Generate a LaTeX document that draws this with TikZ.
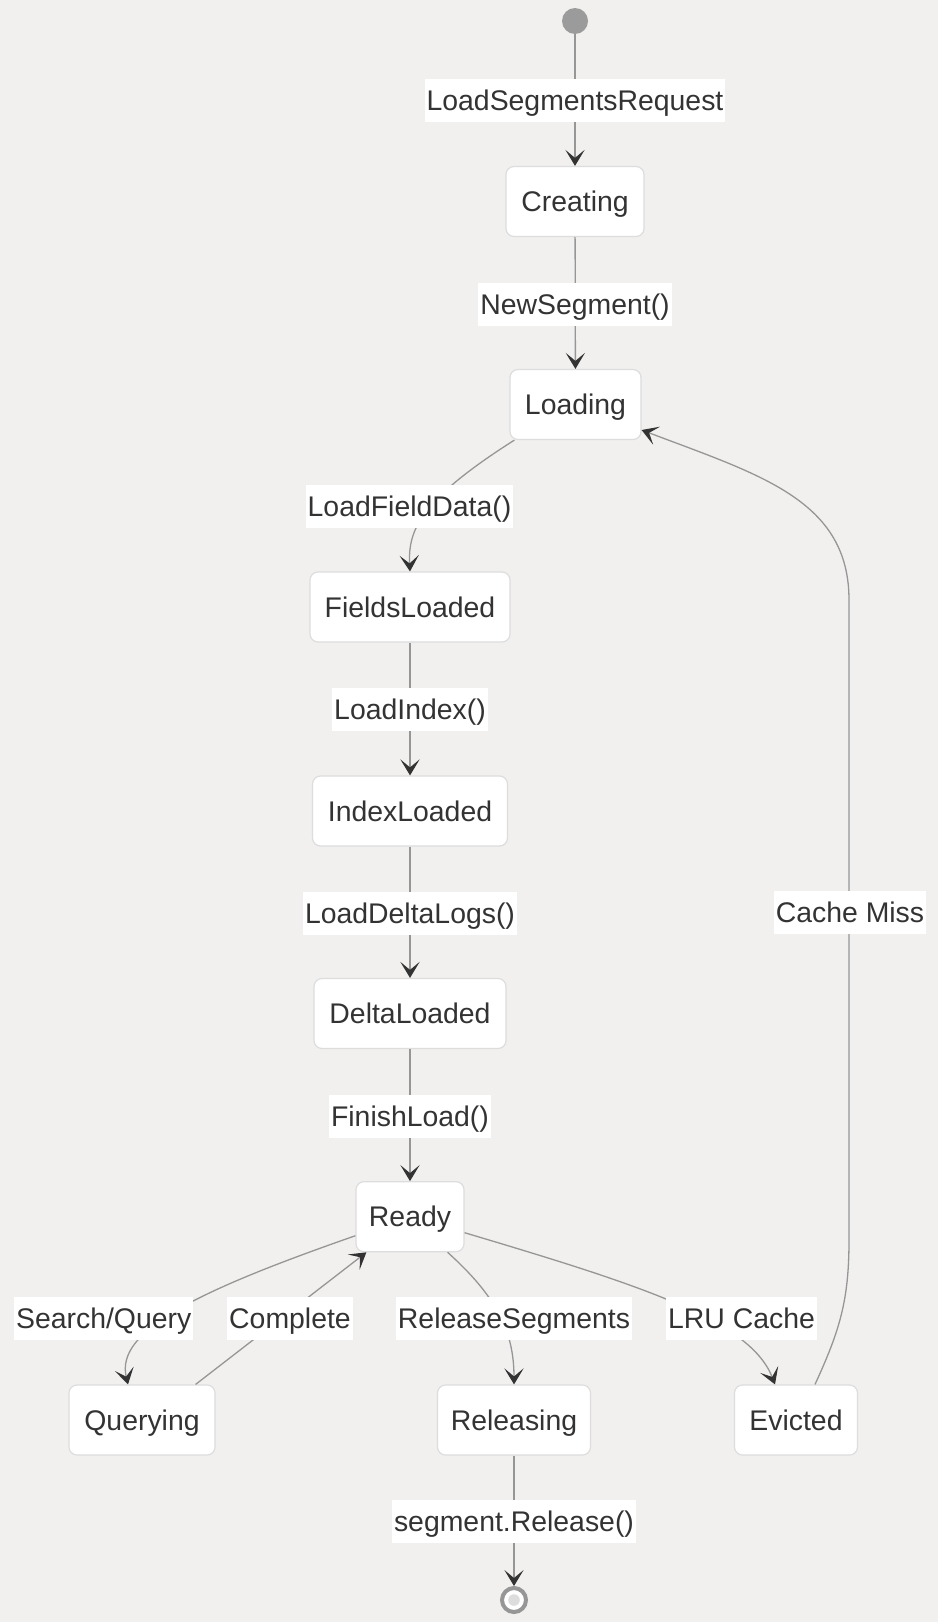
\documentclass[tikz,border=0pt]{standalone}
\usepackage{fontspec}
\setmainfont{Liberation Sans}
\usetikzlibrary{arrows.meta,calc}
\definecolor{bg}{RGB}{241,240,239}
\definecolor{edgec}{RGB}{150,150,150}
\definecolor{nodeb}{RGB}{221,221,221}
\definecolor{txt}{RGB}{51,51,51}
\definecolor{tipc}{RGB}{51,51,51}
\definecolor{startc}{RGB}{155,155,155}
\begin{document}
\begin{tikzpicture}[x=0.5pt,y=-0.5pt,
  state/.style={draw=nodeb, line width=0.6pt, fill=white, rounded corners=4pt, minimum height=35pt, inner xsep=0pt, text height=10.2pt, text depth=0pt, font=\fontsize{14.2pt}{17pt}\selectfont, text=txt},
  lbl/.style={fill=white, inner xsep=1pt, inner ysep=0pt, minimum height=21.5pt, text height=10.2pt, text depth=0pt, font=\fontsize{14.2pt}{17pt}\selectfont, text=txt},
  edge/.style={draw=edgec, line width=0.65pt, -{Stealth[length=8pt,width=9.6pt,inset=4pt,color=tipc]}}
]
\path[fill=bg, use as bounding box] (0,0) rectangle (938,1622);

% states
\node[circle, fill=startc, minimum size=13pt, inner sep=0pt] (start) at (575,21) {};
\node[state, minimum width=69pt] (creating) at (575,201.5) {Creating};
\node[state, minimum width=65.5pt] (loading) at (575.5,404.5) {Loading};
\node[state, minimum width=100pt] (fields) at (410,607) {FieldsLoaded};
\node[state, minimum width=97.5pt] (index) at (410,811) {IndexLoaded};
\node[state, minimum width=96pt] (delta) at (410,1013.5) {DeltaLoaded};
\node[state, minimum width=54pt] (ready) at (410,1216.7) {Ready};
\node[state, minimum width=73pt] (querying) at (142,1420) {Querying};
\node[state, minimum width=76.5pt] (releasing) at (514,1420) {Releasing};
\node[state, minimum width=61.5pt] (evicted) at (796,1420) {Evicted};
\node[circle, draw=edgec, line width=2pt, fill=white, minimum size=12pt, inner sep=0pt] (end) at (514,1600) {};
\node[circle, fill=nodeb, minimum size=5.8pt, inner sep=0pt] (endin) at (end) {};

% transitions
\draw[edge] (start) -- (creating);
\draw[edge] (creating) -- (loading);
\draw[edge] ([xshift=2.5pt]loading.south west) .. controls (420,500) and (408,530) .. (fields.north);
\draw[edge] (fields) -- (index);
\draw[edge] (index) -- (delta);
\draw[edge] (delta) -- (ready);
\draw[edge] ([yshift=-9.5pt]ready.west) .. controls (200,1290) and (115,1330) .. ([xshift=-7pt]querying.north);
\draw[edge] ([xshift=-10pt]querying.north east) -- ([xshift=5.5pt]ready.south west);
\draw[edge] ([xshift=-8.5pt]ready.south east) .. controls (495,1295) and (514,1330) .. (releasing.north);
\draw[edge] ([yshift=-8pt]ready.east) .. controls (640,1285) and (750,1320) .. ([xshift=-10.5pt]evicted.north);
\draw[edge] ([xshift=9.5pt]evicted.north) .. controls (840,1330) and (849,1300) .. (849,1240) -- (849,600) .. controls (849,500) and (760,475) .. ([yshift=-12.75pt]loading.east);
\draw[edge] (releasing) -- (end);

% labels
\node[lbl] (l1) at (575,100) {LoadSegmentsRequest};
\node[lbl] (l2) at (575,304) {NewSegment()};
\node[lbl] (l3) at (409.5,506.5) {LoadFieldData()};
\node[lbl] (l4) at (410,709.5) {LoadIndex()};
\node[lbl] (l5) at (410,913) {LoadDeltaLogs()};
\node[lbl] (l6) at (410,1116) {FinishLoad()};
\node[lbl] (l7) at (103.7,1318) {Search/Query};
\node[lbl] (l8) at (290,1318) {Complete};
\node[lbl] (l9) at (514,1318) {ReleaseSegments};
\node[lbl] (l10) at (741.5,1318) {LRU Cache};
\node[lbl] (l11) at (514,1521.7) {segment.Release()};
\node[lbl] (l12) at (850,912) {Cache Miss};
\end{tikzpicture}
\end{document}
